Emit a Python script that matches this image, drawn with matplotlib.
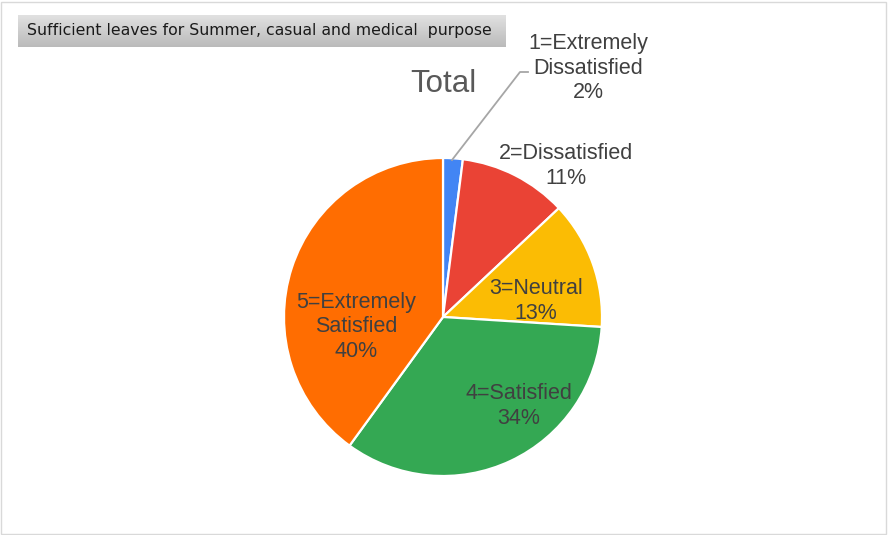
import matplotlib.pyplot as plt
import numpy as np

plt.rcParams['font.family'] = ['Liberation Sans', 'DejaVu Sans']

# data
categories = ['1=Extremely\nDissatisfied', '2=Dissatisfied', '3=Neutral',
              '4=Satisfied', '5=Extremely\nSatisfied']
percent = [2, 11, 13, 34, 40]
colors = ['#4285F4', '#EA4335', '#FBBC04', '#34A853', '#FF6D01']
title = 'Sufficient leaves for Summer, casual and medical  purpose'

W, H = 888, 535
fig = plt.figure(figsize=(W / 100, H / 100), dpi=100)
ax = fig.add_axes([0, 0, 1, 1])

# pie in pixel space (y measured from bottom)
cx, cy, r = 443, H - 317, 159
wedges, _ = ax.pie(percent, colors=colors, startangle=90, counterclock=False,
                   center=(cx, cy), radius=r,
                   wedgeprops=dict(edgecolor='white', linewidth=1.6))

# label placement (pixels from top-left)
label_pos = [(588, 68), (566, 166), (536, 301), (519, 406), (356, 327)]
for (lx, ly), cat, p in zip(label_pos, categories, percent):
    ax.text(lx, H - ly, '%s\n%d%%' % (cat, p), ha='center', va='center',
            fontsize=15.5, color='#404040', linespacing=1.2)

# leader line for the small slice
lead = np.array([(452, 160), (520, 72), (528, 72)])
ax.plot(lead[:, 0], H - lead[:, 1], color='#A6A6A6', lw=1.3)

# chart title
ax.text(443, H - 84, 'Total', ha='center', va='center', fontsize=22.5, color='#595959')

# grey gradient header box
grad = np.linspace(0.88, 0.73, 50).reshape(-1, 1)
ax.imshow(grad, cmap='gray', vmin=0, vmax=1, extent=[18, 505, H - 47, H - 15],
          aspect='auto', zorder=0)
ax.text(27, H - 31, title, ha='left', va='center', fontsize=11.3,
        family='DejaVu Sans', color='#1a1a1a')

ax.set_xlim(0, W)
ax.set_ylim(0, H)
ax.axis('off')

# outer border
fig.patches.append(plt.Rectangle((1, 1), W - 3, H - 3, transform=None,
                                 fill=False, edgecolor='#D9D9D9', lw=1))

fig.savefig('out.png', dpi=100)
